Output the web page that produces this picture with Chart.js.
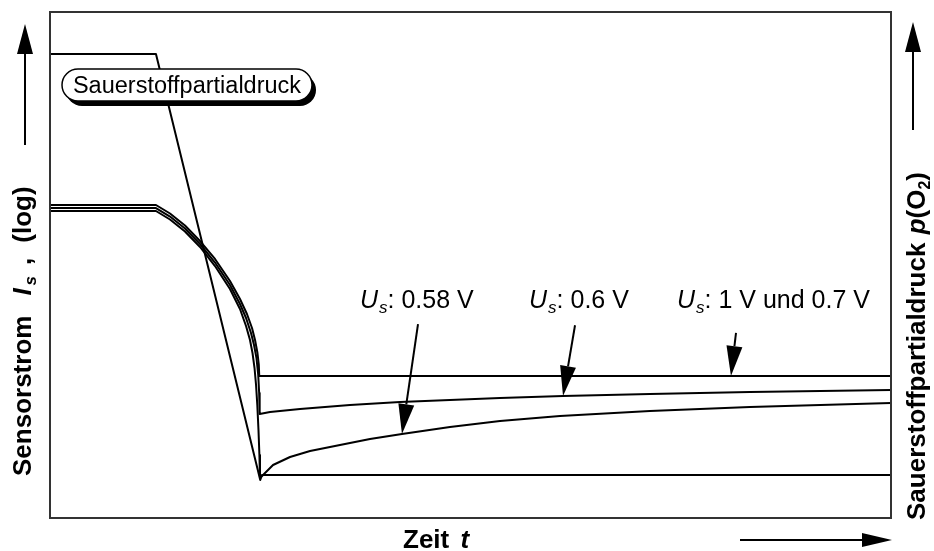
<!DOCTYPE html>
<html>
<head>
<meta charset="utf-8">
<script src="https://cdn.jsdelivr.net/npm/chart.js@4/dist/chart.umd.min.js"></script>
<style>
  html, body { margin: 0; padding: 0; background: #fff; }
  #c { display: block; }
</style>
</head>
<body>
<canvas id="c" width="934" height="551"></canvas>
<script>
// Time axis and both level axes are in arbitrary units (0–100); the plot has no ticks.

// Oxygen partial pressure p(O2)
const oxygenTime  = [0, 12.6, 25.0, 25.2, 100];
const oxygenLevel = [91.7, 91.7, 7.5, 8.5, 8.5];

// Sensor current, Us = 1 V and 0.7 V (log scale)
const time1V    = [0, 12.6, 14.27, 16.05, 17.84, 19.62, 21.4, 22.59, 23.42, 24.02, 24.38, 24.67, 24.83, 24.88, 100];
const current1V = [61.86, 61.86, 60.18, 57.81, 54.74, 51.19, 46.84, 43.28, 40.32, 37.55, 35.18, 32.61, 30.24, 28.06, 28.06];

// Sensor current, Us = 0.6 V
const time06    = [0, 12.6, 14.27, 16.05, 17.84, 19.62, 21.4, 22.59, 23.31, 23.9, 24.26, 24.55, 24.76, 24.87, 24.93,
                   26.16, 29.73, 35.67, 41.62, 47.56, 53.51, 61.0, 71.34, 83.23, 100];
const current06 = [61.26, 61.26, 59.58, 57.21, 54.15, 50.49, 46.05, 42.29, 39.53, 36.56, 34.19, 31.62, 28.26, 24.7, 20.55,
                   20.95, 21.54, 22.33, 22.92, 23.32, 23.72, 24.11, 24.51, 24.9, 25.3];

// Sensor current, Us = 0.58 V
const time058    = [0, 12.6, 14.27, 16.05, 17.84, 19.62, 21.4, 22.59, 23.31, 23.78, 24.08, 24.32, 24.5, 24.65, 24.79, 24.9, 24.97,
                    25.45, 26.52, 28.54, 30.92, 34.48, 38.05, 41.85, 47.56, 53.51, 60.64, 71.34, 83.23, 100];
const current058 = [60.67, 60.67, 58.99, 56.62, 53.56, 49.8, 45.26, 41.3, 37.94, 35.18, 32.61, 29.64, 26.28, 22.33, 17.39, 12.45, 7.91,
                    8.7, 10.47, 12.06, 13.24, 14.43, 15.61, 16.6, 17.98, 19.17, 20.16, 21.15, 21.94, 22.73];

// Voltage labels and where their arrows point on each curve
const voltageLabels = ['0.58 V', '0.6 V', '1 V und 0.7 V'];
const arrowTipTime   = [41.85, 61.0, 80.97];
const arrowTipLevel  = [16.6, 24.11, 28.06];
const arrowTailTime  = [43.76, 62.43, 81.57];
const arrowTailLevel = [38.3, 38.1, 36.6];
const labelTime      = [36.86, 56.96, 74.55];
const labelLevel     = [41.5, 41.5, 41.5];

const FONT = '"Liberation Sans", Arial, Helvetica, sans-serif';

function pts(xs, ys) { return xs.map((x, i) => ({ x: x, y: ys[i] })); }

function arrow(ctx, x1, y1, x2, y2, headLen, headHalf) {
  const ang = Math.atan2(y2 - y1, x2 - x1);
  const bx = x2 - headLen * Math.cos(ang), by = y2 - headLen * Math.sin(ang);
  ctx.beginPath();
  ctx.moveTo(x1, y1);
  ctx.lineTo(bx, by);
  ctx.stroke();
  ctx.beginPath();
  ctx.moveTo(x2, y2);
  ctx.lineTo(bx + headHalf * Math.sin(ang), by - headHalf * Math.cos(ang));
  ctx.lineTo(bx - headHalf * Math.sin(ang), by + headHalf * Math.cos(ang));
  ctx.closePath();
  ctx.fill();
}

function runs(ctx, list, x, y) {
  let cx = x;
  list.forEach(r => {
    ctx.font = r.font;
    ctx.fillText(r.text, cx, y + (r.dy || 0));
    cx += ctx.measureText(r.text).width + (r.gap || 0);
  });
  return cx;
}

function pill(ctx, x, y, w, h) {
  const r = h / 2;
  ctx.beginPath();
  ctx.moveTo(x + r, y);
  ctx.lineTo(x + w - r, y);
  ctx.arc(x + w - r, y + r, r, -Math.PI / 2, Math.PI / 2);
  ctx.lineTo(x + r, y + h);
  ctx.arc(x + r, y + r, r, Math.PI / 2, Math.PI * 1.5);
  ctx.closePath();
}

const decorations = {
  id: 'decorations',
  afterDatasetsDraw(chart) {
    const ctx = chart.ctx;
    const a = chart.chartArea;
    const xs = chart.scales.x, ys = chart.scales.y;
    ctx.save();
    ctx.textBaseline = 'alphabetic';
    ctx.textAlign = 'left';

    // frame
    ctx.strokeStyle = '#333';
    ctx.lineWidth = 2;
    ctx.strokeRect(a.left, a.top, a.right - a.left, a.bottom - a.top);

    // callout for the oxygen curve
    ctx.fillStyle = '#000';
    pill(ctx, 66, 74, 250, 32);
    ctx.fill();
    pill(ctx, 62, 69, 250, 32);
    ctx.fillStyle = '#fff';
    ctx.fill();
    ctx.strokeStyle = '#000';
    ctx.lineWidth = 1.5;
    ctx.stroke();
    ctx.fillStyle = '#000';
    ctx.font = '23.5px ' + FONT;
    ctx.textAlign = 'center';
    ctx.fillText('Sauerstoffpartialdruck', 187, 93);
    ctx.textAlign = 'left';

    // voltage annotations
    ctx.strokeStyle = '#000';
    ctx.fillStyle = '#000';
    ctx.lineWidth = 2;
    voltageLabels.forEach((txt, i) => {
      const tx = xs.getPixelForValue(arrowTailTime[i]), ty = ys.getPixelForValue(arrowTailLevel[i]);
      const hx = xs.getPixelForValue(arrowTipTime[i]), hy = ys.getPixelForValue(arrowTipLevel[i]);
      arrow(ctx, tx, ty, hx, hy, 30, 8);
      const lx = xs.getPixelForValue(labelTime[i]), ly = ys.getPixelForValue(labelLevel[i]);
      runs(ctx, [
        { text: 'U', font: 'italic 25px ' + FONT, gap: 1 },
        { text: 's', font: 'italic 17px ' + FONT, dy: 5 },
        { text: ': ' + txt, font: '25px ' + FONT }
      ], lx, ly);
    });

    // left axis title with arrow
    ctx.save();
    ctx.translate(31, 476);
    ctx.rotate(-Math.PI / 2);
    runs(ctx, [
      { text: 'Sensorstrom', font: 'bold 26px ' + FONT, gap: 20 },
      { text: 'I', font: 'italic bold 26px ' + FONT, gap: 3 },
      { text: 's', font: 'italic bold 17px ' + FONT, dy: 5, gap: 11 },
      { text: ',', font: 'bold 26px ' + FONT, gap: 15 },
      { text: '(log)', font: 'bold 26px ' + FONT }
    ], 0, 0);
    ctx.restore();
    arrow(ctx, 25, 145, 25, 24, 30, 8);

    // right axis title with arrow
    ctx.save();
    ctx.translate(925, 520);
    ctx.rotate(-Math.PI / 2);
    runs(ctx, [
      { text: 'Sauerstoffpartialdruck ', font: 'bold 26px ' + FONT, gap: 1 },
      { text: 'p', font: 'italic bold 26px ' + FONT },
      { text: '(O', font: 'bold 26px ' + FONT },
      { text: '2', font: 'bold 16px ' + FONT, dy: 5 },
      { text: ')', font: 'bold 26px ' + FONT }
    ], 0, 0);
    ctx.restore();
    arrow(ctx, 913, 130, 913, 22, 30, 8);

    // bottom axis title with arrow
    runs(ctx, [
      { text: 'Zeit ', font: 'bold 26px ' + FONT, gap: 4 },
      { text: 't', font: 'italic bold 26px ' + FONT }
    ], 403, 548);
    arrow(ctx, 740, 540, 892, 540, 30, 7);

    ctx.restore();
  }
};

const lineStyle = { borderColor: '#000', borderWidth: 2, pointRadius: 0, tension: 0, fill: false, borderJoinStyle: 'round' };

new Chart(document.getElementById('c'), {
  type: 'line',
  data: {
    datasets: [
      Object.assign({ label: 'Sauerstoffpartialdruck', data: pts(oxygenTime, oxygenLevel), yAxisID: 'y2' }, lineStyle),
      Object.assign({ label: 'Us: 1 V und 0.7 V', data: pts(time1V, current1V), yAxisID: 'y' }, lineStyle),
      Object.assign({ label: 'Us: 0.6 V', data: pts(time06, current06), yAxisID: 'y' }, lineStyle),
      Object.assign({ label: 'Us: 0.58 V', data: pts(time058, current058), yAxisID: 'y' }, lineStyle)
    ]
  },
  options: {
    responsive: false,
    animation: false,
    devicePixelRatio: 1,
    layout: { padding: { left: 50, right: 43, top: 12, bottom: 33 } },
    scales: {
      x: { type: 'linear', min: 0, max: 100, display: false },
      y: { type: 'linear', min: 0, max: 100, display: false },
      y2: { type: 'linear', min: 0, max: 100, display: false, position: 'right' }
    },
    plugins: { legend: { display: false }, tooltip: { enabled: false } }
  },
  plugins: [decorations]
});
</script>
</body>
</html>
